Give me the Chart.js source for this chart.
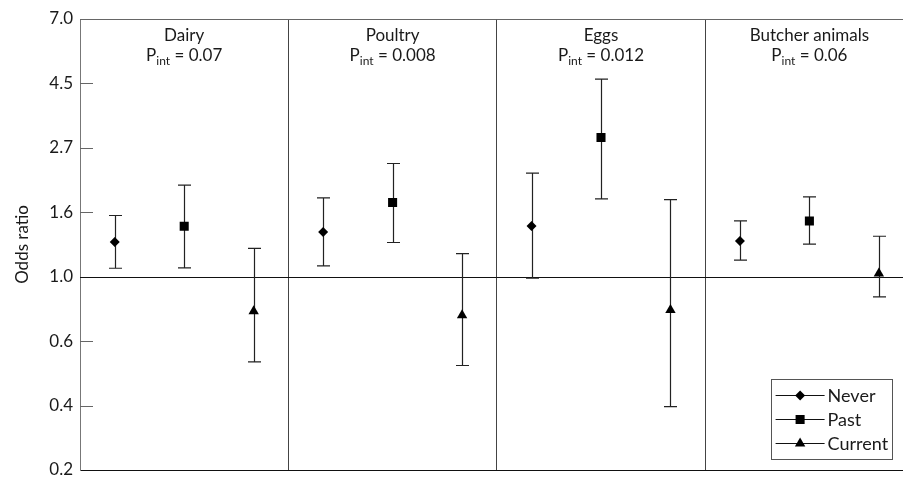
<!DOCTYPE html>
<html>
<head>
<meta charset="utf-8">
<script src="https://cdn.jsdelivr.net/npm/chart.js@4/dist/chart.umd.min.js"></script>
<style>
  html, body { margin: 0; padding: 0; background: #fff; overflow: hidden; }
  #wrap { width: 920px; height: 478px; }
</style>
</head>
<body>
<div id="wrap"><canvas id="orChart" width="920" height="478"></canvas></div>
<script>
"use strict";

var categories = [ "Dairy", "Poultry", "Eggs", "Butcher animals" ];
var pInt       = [ "0.07", "0.008", "0.012", "0.06" ];
var groups     = [ "Never", "Past", "Current" ];

var neverOR     = [ 1.31, 1.416, 1.483, 1.32 ];
var neverLow    = [ 1.068, 1.087, 0.988, 1.137 ];
var neverHigh   = [ 1.608, 1.843, 2.233, 1.542 ];
var pastOR      = [ 1.48, 1.779, 2.946, 1.542 ];
var pastLow     = [ 1.071, 1.304, 1.829, 1.287 ];
var pastHigh    = [ 2.034, 2.407, 4.631, 1.857 ];
var currentOR   = [ 0.765, 0.742, 0.772, 1.025 ];
var currentLow  = [ 0.516, 0.502, 0.365, 0.855 ];
var currentHigh = [ 1.245, 1.197, 1.82, 1.369 ];

// axis is in ln units, every half step gets a (rounded) label
var yTickValues = [ 0.2231, 0.3679, 0.6065, 1.0, 1.6487, 2.7183, 4.4817, 7.3891 ];
var yTickLabels = [ "0.2", "0.4", "0.6", "1.0", "1.6", "2.7", "4.5", "7.0" ];

var FONT = "Lato, 'DejaVu Sans', sans-serif";
var INK  = "#1a1a1a";

function points(values, g) {
    return values.map(function (v, i) {
        return { x: i * groups.length + g + 0.5, y: v };
    });
}

var series = [
    { label: groups[0], or: neverOR,   low: neverLow,   high: neverHigh,   style: "rectRot",  radius: 5 },
    { label: groups[1], or: pastOR,    low: pastLow,    high: pastHigh,    style: "rect",     radius: 6.4 },
    { label: groups[2], or: currentOR, low: currentLow, high: currentHigh, style: "triangle", radius: 6 }
];

var datasets = series.map(function (s, g) {
    return {
        label           : s.label,
        data            : points(s.or, g),
        errLow          : s.low,
        errHigh         : s.high,
        pointStyle      : s.style,
        pointRadius     : s.radius,
        pointHoverRadius: s.radius,
        backgroundColor : "#000",
        borderColor     : "#000",
        borderWidth     : 0,
        showLine        : false
    };
});

function drawMarker(ctx, style, x, y, r) {
    ctx.beginPath();
    if (style === "rectRot") {
        ctx.moveTo(x, y - r); ctx.lineTo(x + r, y); ctx.lineTo(x, y + r); ctx.lineTo(x - r, y);
    } else if (style === "rect") {
        var s = r * Math.SQRT1_2;
        ctx.rect(x - s, y - s, 2 * s, 2 * s);
    } else {
        ctx.moveTo(x, y - r);
        ctx.lineTo(x + r * Math.sin(Math.PI * 2 / 3), y + r / 2);
        ctx.lineTo(x - r * Math.sin(Math.PI * 2 / 3), y + r / 2);
    }
    ctx.closePath();
    ctx.fill();
}

var framePlugin = {
    id: "frame",
    beforeDatasetsDraw: function (chart) {
        var ctx = chart.ctx, area = chart.chartArea, ys = chart.scales.y;
        ctx.save();
        // top border
        ctx.strokeStyle = "#666";
        ctx.lineWidth = 1;
        ctx.beginPath();
        ctx.moveTo(area.left, area.top + 0.5);
        ctx.lineTo(area.right, area.top + 0.5);
        ctx.stroke();
        // tick marks sit inside the plot
        yTickValues.forEach(function (v, i) {
            if (i === 0 || i === yTickValues.length - 1 || v === 1) return;
            var py = Math.round(ys.getPixelForValue(v)) + 0.5;
            ctx.beginPath();
            ctx.moveTo(area.left, py);
            ctx.lineTo(area.left + 13, py);
            ctx.stroke();
        });
        // reference line at OR = 1
        var y1 = Math.round(ys.getPixelForValue(1)) + 0.5;
        ctx.strokeStyle = "#111";
        ctx.beginPath();
        ctx.moveTo(area.left, y1);
        ctx.lineTo(area.right, y1);
        ctx.stroke();
        // 95% CI whiskers
        ctx.strokeStyle = "#222";
        ctx.lineWidth = 1.2;
        chart.data.datasets.forEach(function (ds, di) {
            var meta = chart.getDatasetMeta(di);
            meta.data.forEach(function (pt, i) {
                var x = Math.round(pt.x) + 0.5;
                var yl = ys.getPixelForValue(ds.errLow[i]);
                var yh = ys.getPixelForValue(ds.errHigh[i]);
                ctx.beginPath();
                ctx.moveTo(x, yl); ctx.lineTo(x, yh);
                ctx.moveTo(x - 6.5, yl); ctx.lineTo(x + 6.5, yl);
                ctx.moveTo(x - 6.5, yh); ctx.lineTo(x + 6.5, yh);
                ctx.stroke();
            });
        });
        ctx.restore();
    },
    afterDraw: function (chart) {
        var ctx = chart.ctx, area = chart.chartArea, xs = chart.scales.x;
        ctx.save();
        ctx.fillStyle = INK;
        ctx.textBaseline = "middle";
        // panel headers
        categories.forEach(function (name, i) {
            var cx = xs.getPixelForValue(i * groups.length + groups.length / 2);
            ctx.font = "17px " + FONT;
            ctx.textAlign = "center";
            ctx.fillText(name, cx, area.top + 17);
            var rest = " = " + pInt[i];
            var wP = ctx.measureText("P").width, wR = ctx.measureText(rest).width;
            ctx.font = "12px " + FONT;
            var wS = ctx.measureText("int").width;
            var x0 = cx - (wP + wS + wR) / 2, y0 = area.top + 37;
            ctx.textAlign = "left";
            ctx.font = "17px " + FONT;
            ctx.fillText("P", x0, y0);
            ctx.font = "12px " + FONT;
            ctx.fillText("int", x0 + wP, y0 + 5);
            ctx.font = "17px " + FONT;
            ctx.fillText(rest, x0 + wP + wS, y0);
        });
        // legend
        var bw = 121, bh = 80;
        var bx = area.right - 22 - bw, by = area.bottom - 11 - bh;
        ctx.fillStyle = "#fff";
        ctx.fillRect(bx, by, bw, bh);
        ctx.strokeStyle = "#555";
        ctx.lineWidth = 1;
        ctx.strokeRect(Math.round(bx) + 0.5, Math.round(by) + 0.5, bw, bh);
        chart.data.datasets.forEach(function (ds, di) {
            var ry = Math.round(by + 16 + di * 24) + 0.5;
            ctx.strokeStyle = "#111";
            ctx.beginPath();
            ctx.moveTo(bx + 5, ry);
            ctx.lineTo(bx + 54, ry);
            ctx.stroke();
            ctx.fillStyle = "#000";
            drawMarker(ctx, ds.pointStyle, bx + 29.5, ry, ds.pointRadius);
            ctx.fillStyle = INK;
            ctx.font = "18px " + FONT;
            ctx.textAlign = "left";
            ctx.fillText(ds.label, bx + 57, ry + 1);
        });
        ctx.restore();
    }
};

new Chart(document.getElementById("orChart"), {
    type   : "scatter",
    data   : { datasets: datasets },
    plugins: [ framePlugin ],
    options: {
        responsive       : false,
        devicePixelRatio : 1,
        animation        : false,
        layout           : { padding: { top: 19, right: 2, bottom: 8, left: 0 } },
        plugins          : {
            legend : { display: false },
            tooltip: { enabled: false }
        },
        scales           : {
            x: {
                type  : "linear",
                min   : 0,
                max   : categories.length * groups.length,
                ticks : { display: false, stepSize: groups.length },
                grid  : { color: "#444", drawTicks: false },
                border: { color: "#111" },
                afterFit: function (scale) {
                    scale.height = 0;
                    scale.paddingLeft = scale.paddingRight = scale.paddingTop = scale.paddingBottom = 0;
                }
            },
            y: {
                type  : "logarithmic",
                min   : yTickValues[0],
                max   : yTickValues[yTickValues.length - 1],
                afterBuildTicks: function (scale) {
                    scale.ticks = yTickValues.map(function (v) { return { value: v }; });
                },
                afterFit: function (scale) {
                    scale.width = 80;
                    scale.paddingTop = scale.paddingBottom = 0;
                },
                ticks : {
                    padding : 7,
                    color   : INK,
                    font    : { family: FONT, size: 17 },
                    callback: function (v, i) { return yTickLabels[i]; }
                },
                grid  : { display: false, drawTicks: false },
                border: { color: "#777" },
                title : {
                    display: true,
                    text   : "Odds ratio",
                    color  : INK,
                    font   : { family: FONT, size: 17 },
                    padding: { top: 12, bottom: 0 }
                }
            }
        }
    }
});
</script>
</body>
</html>
